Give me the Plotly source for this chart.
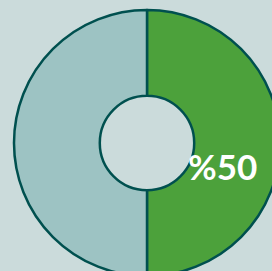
import plotly.graph_objects as go

labels = ["Evet", "Hayır"]
values = [50, 50]
slice_colors = ["#4ca13b", "#9dc3c3"]
label_text = "%50"

W, H = 280, 276
fig = go.Figure(go.Pie(
    labels=labels,
    values=values,
    hole=0.355,
    sort=False,
    direction="clockwise",
    rotation=0,
    textinfo="none",
    hoverinfo="none",
    marker=dict(colors=slice_colors, line=dict(color="#00504f", width=2.5)),
    domain=dict(x=[14 / W, 1], y=[0, 266 / H]),
    showlegend=False,
))
fig.add_annotation(
    text="<b>" + label_text + "</b>", x=223 / W, y=1 - 166 / H, xref="paper", yref="paper",
    xanchor="center", yanchor="middle",
    showarrow=False, font=dict(family="Lato", size=35, color="white"),
)
fig.update_layout(
    width=W, height=H,
    margin=dict(l=0, r=0, t=0, b=0),
    paper_bgcolor="#cbdbdb",
    plot_bgcolor="#cbdbdb",
)
fig.write_html("out.html", config={"displayModeBar": False},
               post_script="document.body.style.margin='0';document.body.style.overflow='hidden';document.body.style.background='#cbdbdb';")
